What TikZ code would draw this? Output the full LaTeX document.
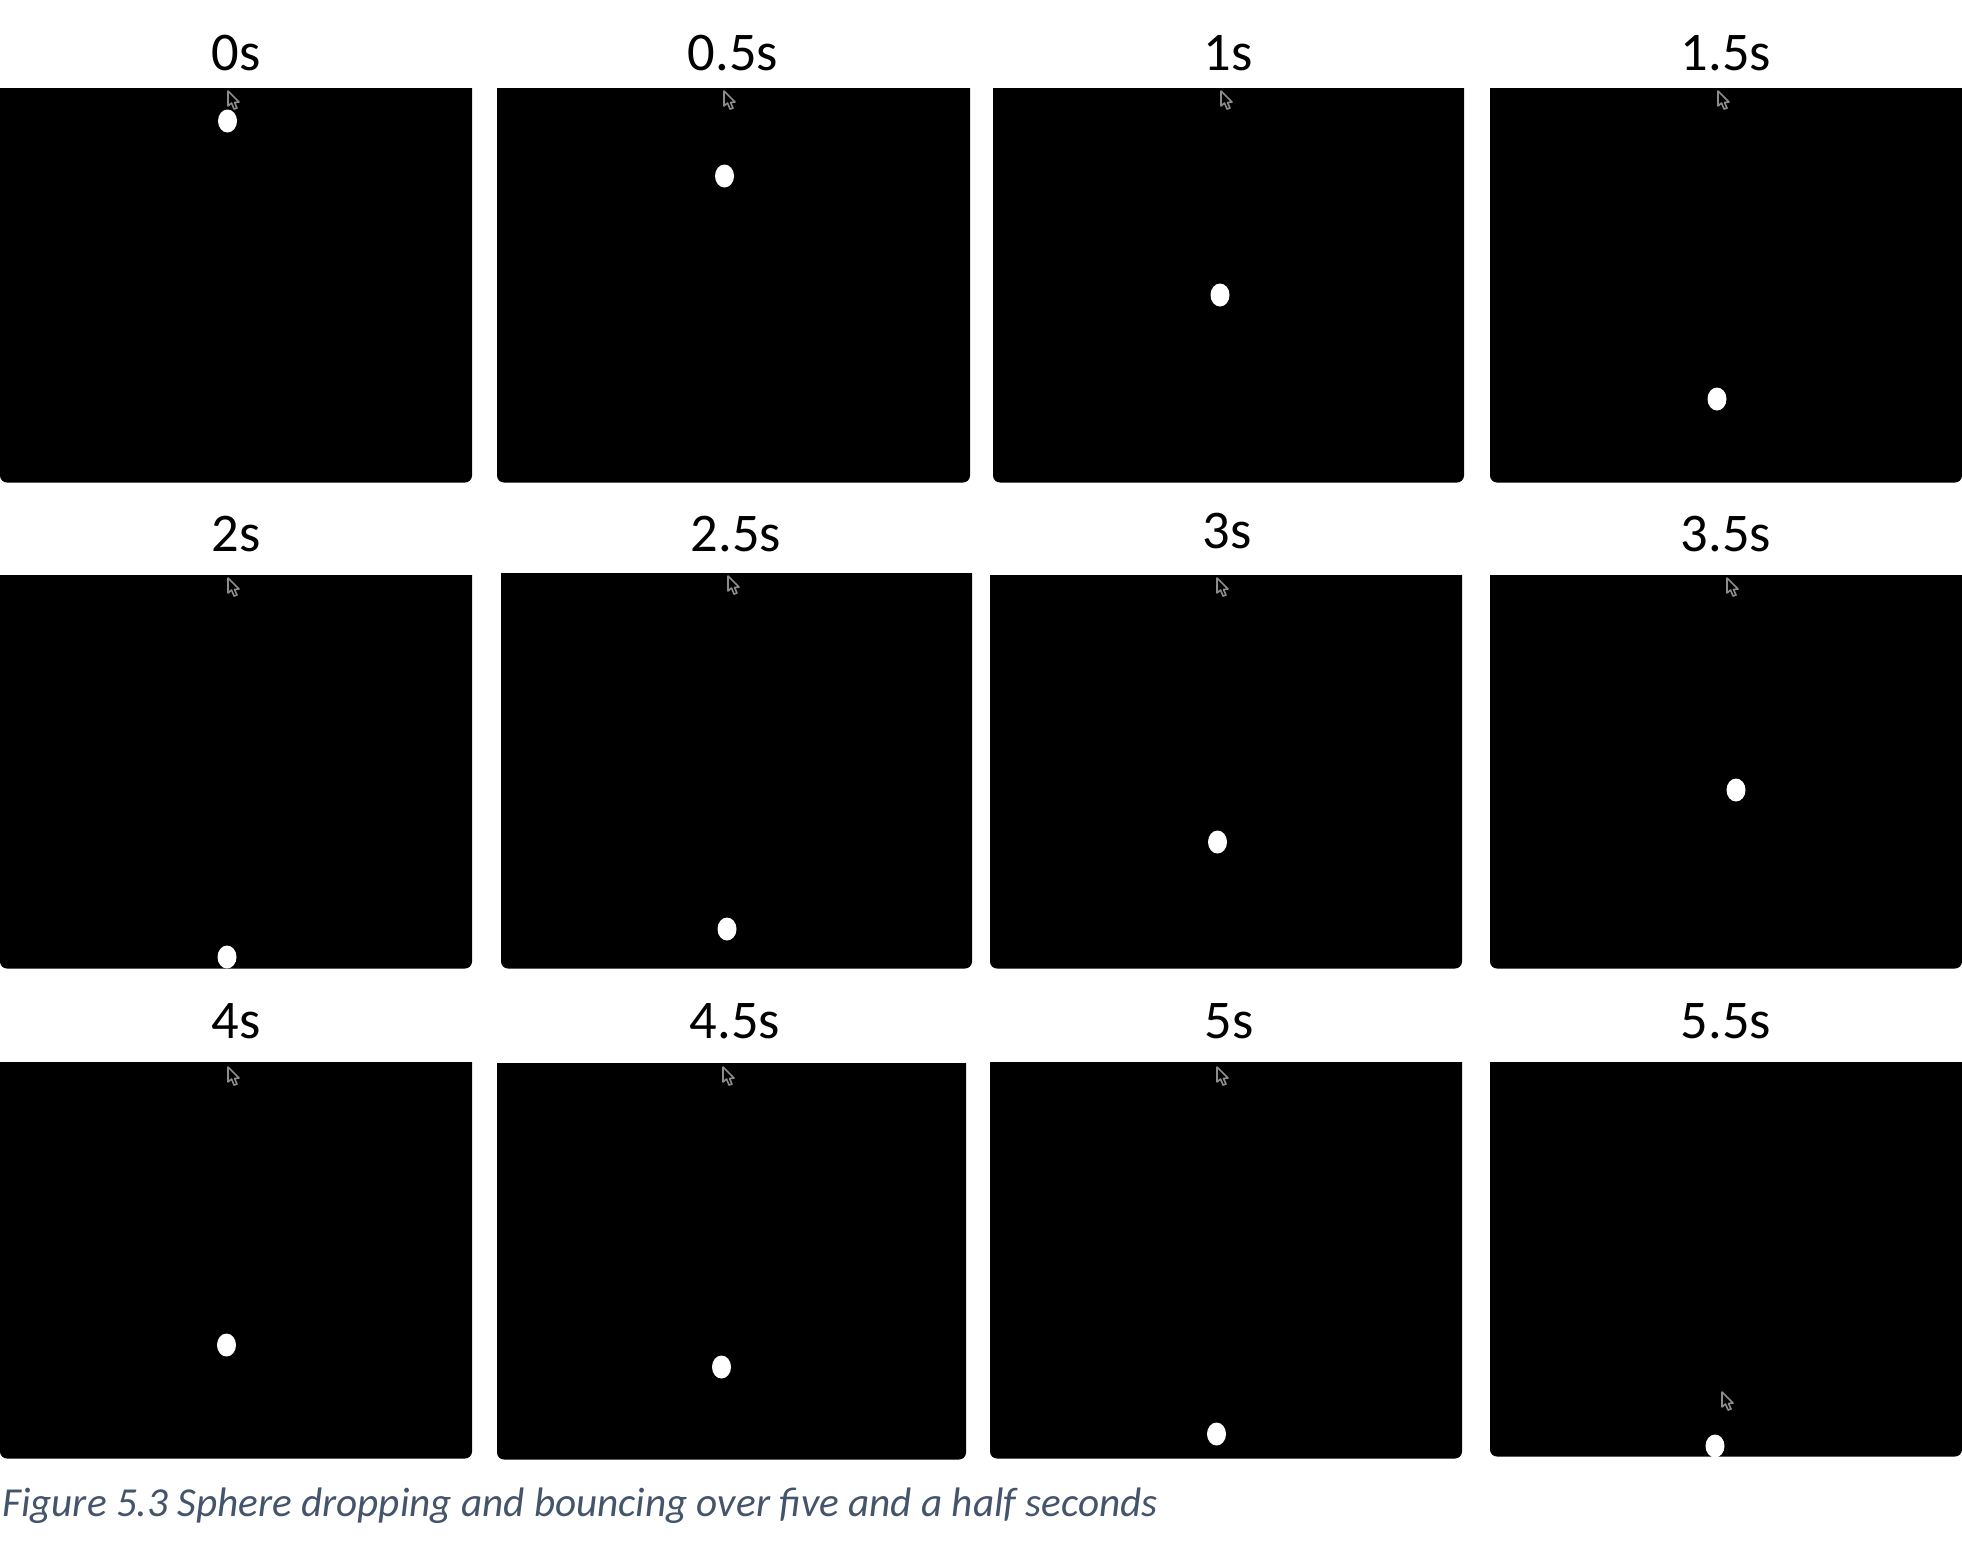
\documentclass[tikz,border=0pt]{standalone}
\usepackage{fontspec}
\setmainfont{Carlito}
\definecolor{capblue}{HTML}{44546A}
\tikzset{
  timelabel/.style={font=\fontsize{54.5}{58}\selectfont, text=black, inner sep=0pt, anchor=base},
  captiontext/.style={font=\fontsize{41.2}{45}\selectfont\itshape, text=capblue, inner sep=0pt, anchor=base west},
  framefill/.style={fill=black, draw=none},
  pointer/.style={fill=black, draw=black!45, line width=1.6pt, line join=round}
}
% panel: x0,y0,x1,y1
\newcommand{\panelbox}[4]{\fill[framefill] (#1pt,-#2pt) -- (#3pt,-#2pt) [rounded corners=7pt] -- (#3pt,-#4pt-1.5pt) -- (#1pt,-#4pt-1.5pt) [sharp corners] -- (#1pt,-#2pt) -- cycle;}
\newcommand{\sphere}[2]{\fill[white] (#1pt,-#2pt-1pt) ellipse [x radius=9.5pt, y radius=11.5pt];}
\newcommand{\arrowptr}[2]{\draw[pointer,shift={(#1pt,-#2pt-1pt)}] (0pt,0pt) -- (0pt,-15pt) -- (3.5pt,-12pt) -- (6pt,-18pt) -- (9pt,-17pt) -- (6.5pt,-11.5pt) -- (11pt,-11pt) -- cycle;}
\begin{document}
\begin{tikzpicture}[x=1pt,y=1pt]
\useasboundingbox (0pt,0pt) rectangle (1962pt,-1564pt);
% row 1
\panelbox{0}{88}{472}{481}
\panelbox{497}{88}{970}{481}
\panelbox{993}{88}{1464}{481}
\panelbox{1490}{88}{1962}{481}
% row 2
\panelbox{0}{575}{472}{967}
\panelbox{501}{573}{972}{967}
\panelbox{990}{575}{1462}{967}
\panelbox{1490}{575}{1962}{967}
% row 3
\panelbox{0}{1062}{472}{1457}
\panelbox{497}{1063}{966}{1458}
\panelbox{990}{1062}{1462}{1457}
\panelbox{1490}{1062}{1962}{1455}
% spheres
\sphere{227.5}{120}
\sphere{724.5}{175}
\sphere{1220}{294}
\sphere{1717}{398}
\sphere{227}{956}
\sphere{727}{928}
\sphere{1217.5}{841}
\sphere{1736}{789}
\sphere{226.5}{1344}
\sphere{721.5}{1366}
\sphere{1216.5}{1433}
\sphere{1715}{1445}
% pointers
\arrowptr{228}{90}
\arrowptr{724}{90}
\arrowptr{1221}{90}
\arrowptr{1718}{90}
\arrowptr{228}{577}
\arrowptr{728}{575}
\arrowptr{1217}{577}
\arrowptr{1727}{577}
\arrowptr{228}{1066}
\arrowptr{723}{1066}
\arrowptr{1217}{1066}
\arrowptr{1722}{1391}
% labels
\node[timelabel] (t00) at (236pt,-70pt) {0s};
\node[timelabel] (t05) at (733pt,-70pt) {0.5s};
\node[timelabel] (t10) at (1228pt,-70pt) {1s};
\node[timelabel] (t15) at (1726pt,-70pt) {1.5s};
\node[timelabel] (t20) at (236pt,-551pt) {2s};
\node[timelabel] (t25) at (736pt,-551pt) {2.5s};
\node[timelabel] (t30) at (1227pt,-548pt) {3s};
\node[timelabel] (t35) at (1726pt,-551pt) {3.5s};
\node[timelabel] (t40) at (236pt,-1038pt) {4s};
\node[timelabel] (t45) at (735pt,-1038pt) {4.5s};
\node[timelabel] (t50) at (1229pt,-1038pt) {5s};
\node[timelabel] (t55) at (1726pt,-1038pt) {5.5s};
\node[captiontext] (cap) at (2pt,-1516pt) {Figure 5.3 Sphere dropping and bouncing over five and a half seconds};
\end{tikzpicture}
\end{document}
